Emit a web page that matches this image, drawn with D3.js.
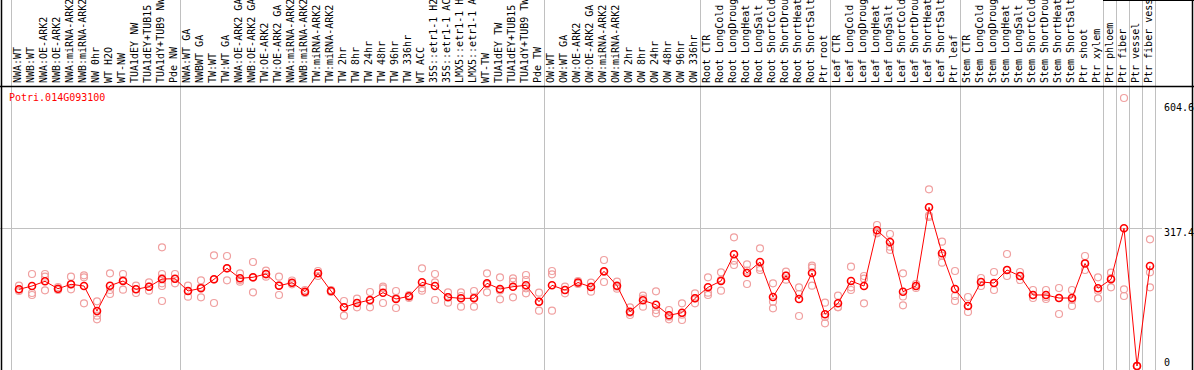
<!DOCTYPE html>
<html>
<head>
<meta charset="utf-8">
<script src="https://cdnjs.cloudflare.com/ajax/libs/d3/7.8.5/d3.min.js"></script>
<style>
    body { margin: 0; background: #fff; }
    svg text { font-family: "DejaVu Sans Mono", monospace; font-size: 10px; }
</style>
</head>
<body>
<div id="chart"></div>
<script>
var geneName = "Potri.014G093100";

var samples = [
    "NWA:WT", "NWB:WT", "NWA:OE-ARK2", "NWB:OE-ARK2", "NWA:miRNA-ARK2", "NWB:miRNA-ARK2",
    "NW 0hr", "WT H2O", "WT-NW", "TUA1dEY NW", "TUA1dEY+TUB15", "TUA1dY+TUB9 NW", "Pde NW",
    "NWA:WT GA", "NWBWT GA", "TW:WT", "TW:WT GA", "NWA:OE-ARK2 GA", "NWB:OE-ARK2 GA",
    "TW:OE-ARK2", "TW:OE-ARK2 GA", "NWA:miRNA-ARK2", "NWB:miRNA-ARK2", "TW:miRNA-ARK2",
    "TW:miRNA-ARK2", "TW 2hr", "TW 8hr", "TW 24hr", "TW 48hr", "TW 96hr", "TW 336hr",
    "WT ACC", "35S::etr1-1 H2", "35S::etr1-1 AC", "LMX5::etr1-1 H", "LMX5::etr1-1 A",
    "WT-TW", "TUA1dEY TW", "TUA1dEY+TUB15", "TUA1dY+TUB9 TW", "Pde TW",
    "OW:WT", "OW:WT GA", "OW:OE-ARK2", "OW:OE-ARK2 GA", "OW:miRNA-ARK2", "OW:miRNA-ARK2",
    "OW 2hr", "OW 8hr", "OW 24hr", "OW 48hr", "OW 96hr", "OW 336hr",
    "Root CTR", "Root LongCold", "Root LongDroug", "Root LongHeat", "Root LongSalt",
    "Root ShortCold", "Root ShortDrou", "Root ShortHeat", "Root ShortSalt", "Ptr root",
    "Leaf CTR", "Leaf LongCold", "Leaf LongDroug", "Leaf LongHeat", "Leaf LongSalt",
    "Leaf ShortCold", "Leaf ShortDrou", "Leaf ShortHeat", "Leaf ShortSalt", "Ptr leaf",
    "Stem CTR", "Stem LongCold", "Stem LongDroug", "Stem LongHeat", "Stem LongSalt",
    "Stem ShortCold", "Stem ShortDrou", "Stem ShortHeat", "Stem ShortSalt", "Ptr shoot",
    "Ptr xylem", "Ptr phloem", "Ptr fiber", "Ptr vessel", "Ptr fiber vess"
];

// mean expression per sample
var means = [
    176.8, 184.4, 195.2, 178.2, 188.3, 184.4, 126.8, 185.1, 195.9, 176.8, 182.8, 200.5, 201.2,
    172.9, 179.1, 199.8, 225.2, 202.1, 204.5, 212.1, 185.1, 192.0, 171.3, 213.7, 172.9,
    135.3, 145.2, 152.1, 169.0, 154.4, 160.7, 192.9, 184.4, 158.4, 156.0, 156.0,
    190.6, 177.5, 182.8, 186.0, 148.2,
    186.0, 175.2, 192.5, 182.1, 218.3, 185.1, 125.2, 151.4, 141.3, 116.9, 122.9, 156.0,
    181.4, 195.9, 257.5, 214.4, 239.7, 159.0, 208.1, 154.4, 214.4, 119.2,
    144.5, 195.9, 184.4, 312.8, 285.8, 171.3, 184.4, 365.8, 259.8, 177.5,
    138.3, 193.6, 191.3, 221.3, 207.5, 163.7, 163.7, 156.7, 156.7, 236.3, 179.1,
    199.8, 317.4, 0, 230.5
];

// individual replicates per sample
var replicates = [
    [185.1, 176.8, 172.9], [212.1, 168.3, 163.7], [212.1, 205.8, 174.5], [182.1, 177.5, 175.2],
    [205.8, 188.3, 176.8], [209.1, 204.5, 144.5], [149.1, 126.8, 115.9, 107.6], [213.7, 175.2, 166.0],
    [212.1, 198.2, 175.9], [185.1, 177.5, 168.3], [192.9, 182.8, 173.6],
    [273.6, 212.1, 202.8, 190.6, 184.4, 149.8], [212.1, 200.5, 190.6],
    [185.1, 172.9, 159.7], [197.5, 182.1, 158.4], [255.2, 199.4, 145.2], [253.6, 225.2, 197.5],
    [213.7, 198.2, 194.3], [239.7, 203.8, 169.9], [219.7, 210.9, 205.8], [205.8, 186.0, 163.7],
    [197.1, 191.3, 188.3], [175.2, 170.6, 168.3], [219.0, 214.4, 207.5], [175.2, 172.9, 170.6],
    [149.8, 135.3, 115.9], [155.1, 145.2, 135.3], [170.6, 150.7, 135.3], [182.8, 179.1, 145.2],
    [172.9, 156.7, 133.7], [163.7, 160.7, 156.7], [225.2, 179.1, 173.6], [212.1, 192.9, 152.1],
    [169.9, 159.0, 145.9], [169.9, 161.4, 136.7], [172.9, 158.4, 136.7], [213.7, 188.3, 169.9],
    [204.5, 174.3, 153.7], [202.1, 194.3, 158.4], [209.8, 198.2, 179.1, 167.6], [169.0, 148.2, 127.5],
    [219.0, 211.4, 127.5], [182.8, 175.2, 167.6], [195.9, 191.3, 189.0], [192.0, 182.8, 171.3],
    [244.3, 216.7, 193.6], [194.3, 182.8, 178.2], [135.3, 122.9, 117.6], [162.0, 155.6, 136.7],
    [172.2, 129.1, 121.5], [129.1, 113.6, 107.6], [144.5, 118.2, 106.0], [167.6, 156.0, 144.5],
    [204.5, 169.0, 163.7], [216.0, 198.2, 173.6], [296.7, 242.7, 232.8], [234.4, 219.7, 189.0],
    [271.3, 226.6, 221.3], [190.6, 148.2, 133.0], [217.4, 208.1, 198.9], [181.4, 166.0, 115.3],
    [231.2, 226.6, 185.1], [145.9, 112.9, 98.4],
    [162.0, 136.0, 135.3], [228.9, 181.4, 175.2], [207.5, 201.2, 144.5], [325.0, 307.3, 305.9],
    [304.3, 275.0, 267.4], [213.7, 160.2, 139.9], [189.0, 184.4, 179.8], [407.3, 346.4, 343.4],
    [286.5, 254.2, 238.1], [219.0, 161.4, 149.8],
    [159.0, 138.3, 124.5], [202.8, 193.6, 184.4], [216.7, 191.3, 175.2], [258.2, 221.3, 207.5],
    [216.7, 207.5, 198.2], [175.2, 163.7, 156.7], [175.2, 159.0, 154.4], [179.8, 156.7, 119.9],
    [175.2, 152.1, 138.3], [253.6, 237.4, 221.3], [204.5, 173.6, 156.0],
    [215.1, 202.8, 181.4], [617.7, 176.8, 161.4], [0, 0, 0], [292.0, 216.0, 181.4]
];

// sample index where each group of columns ends
var groupEnds = [0, 13, 41, 53, 63, 73, 84, 85, 86, 87, 88];
var tickValues = [0, 317.4, 604.6];

var w = 1194,
    h = 370,
    headerH = 86;

var svg = d3.select("#chart").append("svg")
    .attr("width", w)
    .attr("height", h);

svg.append("rect")
    .attr("width", w)
    .attr("height", h)
    .style("fill", "#fff");

var x = d3.scaleBand()
    .domain(d3.range(samples.length))
    .range([11, 1155]);

var y = d3.scaleLinear()
    .domain([0, 604.6])
    .range([366, 103.7]);

function cx(i) {
    return x(i) + x.bandwidth() / 2 + 1.5;
}

// group separators
svg.selectAll("line.group")
    .data(groupEnds)
    .enter()
    .append("line")
    .attr("class", "group")
    .attr("x1", function (d) { return Math.round(x.range()[0] + d * x.step()) + 0.5; })
    .attr("x2", function (d) { return Math.round(x.range()[0] + d * x.step()) + 0.5; })
    .attr("y1", 0)
    .attr("y2", h)
    .style("stroke", "#c0c0c0")
    .style("stroke-width", 1);

// middle grid line
svg.append("line")
    .attr("x1", 0)
    .attr("x2", 1162)
    .attr("y1", Math.round(y(tickValues[1])) + 0.5)
    .attr("y2", Math.round(y(tickValues[1])) + 0.5)
    .style("stroke", "#c0c0c0");

// frame
svg.append("line")
    .attr("x1", 0).attr("x2", w)
    .attr("y1", headerH + 0.5).attr("y2", headerH + 0.5)
    .style("stroke", "#000").style("stroke-width", 1.5);
svg.append("line")
    .attr("x1", 1.5).attr("x2", 1.5)
    .attr("y1", 0).attr("y2", h)
    .style("stroke", "#000").style("stroke-width", 1.5);
svg.append("line")
    .attr("x1", w - 1.5).attr("x2", w - 1.5)
    .attr("y1", 0).attr("y2", h)
    .style("stroke", "#000").style("stroke-width", 1.5);
svg.append("line")
    .attr("x1", x.range()[0] + 84 * x.step()).attr("x2", w)
    .attr("y1", 0.5).attr("y2", 0.5)
    .style("stroke", "#000");

// sample labels
svg.selectAll("text.sample")
    .data(samples)
    .enter()
    .append("text")
    .attr("class", "sample")
    .attr("transform", function (d, i) {
        return "translate(" + (x(i) + x.bandwidth() / 2 + 3.5) + "," + (headerH - 3) + ") rotate(-90)";
    })
    .text(function (d) { return d; });

svg.append("text")
    .attr("x", 9)
    .attr("y", 101)
    .style("fill", "#ff0000")
    .text(geneName);

svg.selectAll("text.tick")
    .data(tickValues)
    .enter()
    .append("text")
    .attr("class", "tick")
    .attr("x", 1164)
    .attr("y", function (d) { return Math.min(y(d) + 7.5, 366); })
    .text(function (d) { return d; });

// replicates
var reps = [];
replicates.forEach(function (r, i) {
    r.forEach(function (v) { reps.push({ i: i, v: v }); });
});

svg.selectAll("circle.rep")
    .data(reps)
    .enter()
    .append("circle")
    .attr("class", "rep")
    .attr("cx", function (d) { return cx(d.i); })
    .attr("cy", function (d) { return y(d.v); })
    .attr("r", 3.5)
    .style("fill", "none")
    .style("stroke", "#f0a0a0")
    .style("stroke-width", 1.2);

var line = d3.line()
    .x(function (d, i) { return cx(i); })
    .y(function (d) { return y(d); });

svg.append("path")
    .datum(means)
    .attr("d", line)
    .style("fill", "none")
    .style("stroke", "#ff0000")
    .style("stroke-width", 1);

svg.selectAll("circle.mean")
    .data(means)
    .enter()
    .append("circle")
    .attr("class", "mean")
    .attr("cx", function (d, i) { return cx(i); })
    .attr("cy", function (d) { return y(d); })
    .attr("r", 3.5)
    .style("fill", "none")
    .style("stroke", "#ff0000")
    .style("stroke-width", 1.6);
</script>
</body>
</html>
